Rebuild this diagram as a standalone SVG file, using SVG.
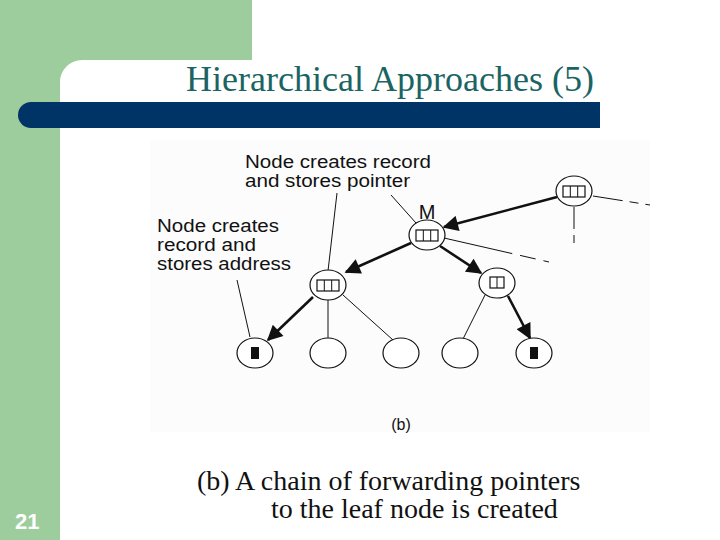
<svg xmlns="http://www.w3.org/2000/svg" width="720" height="540" viewBox="0 0 720 540">
<defs>
<style>
.lbl{font-family:"Liberation Sans",Arial,sans-serif;font-size:17.5px;fill:#111}
.nd{fill:#fff;stroke:#111;stroke-width:1.2}
.thin{stroke:#111;stroke-width:1;fill:none}
.thick{stroke:#111;stroke-width:2.6;fill:none;marker-end:url(#ah)}
.box{fill:#fff;stroke:#111;stroke-width:1.2}
</style>
<marker id="ah" viewBox="0 0 10 10" refX="9" refY="5" markerWidth="7" markerHeight="6" orient="auto" markerUnits="strokeWidth">
<path d="M0,0 L10,5 L0,10 Z" fill="#111"/>
</marker>
</defs>
<rect width="720" height="540" fill="#fff"/>
<g id="frame">
<rect x="0" y="0" width="252" height="60" fill="#9ecd9d"/>
<rect x="0" y="0" width="60" height="540" fill="#9ecd9d"/>
<path d="M60,60 h22 a22,22 0 0 0 -22,22 z" fill="#9ecd9d"/>
<path d="M31,102 H600 V128 H31 A13,13 0 0 1 31,102 Z" fill="#003366"/>
<text x="390" y="91" text-anchor="middle" font-family="'Liberation Serif','Times New Roman',serif" font-size="36" fill="#1b6464">Hierarchical Approaches (5)</text>
<text x="15" y="529" font-family="'Liberation Sans',Arial,sans-serif" font-weight="bold" font-size="22" fill="#fff">21</text>
</g>
<rect x="150" y="140" width="500" height="292" fill="#fcfcfc"/>
<g id="labels">
<text class="lbl" x="245" y="168" textLength="186" lengthAdjust="spacingAndGlyphs">Node creates record</text>
<text class="lbl" x="245" y="187" textLength="165" lengthAdjust="spacingAndGlyphs">and stores pointer</text>
<text class="lbl" x="157" y="232" textLength="122" lengthAdjust="spacingAndGlyphs">Node creates</text>
<text class="lbl" x="157" y="251" textLength="99" lengthAdjust="spacingAndGlyphs">record and</text>
<text class="lbl" x="157" y="270" textLength="134" lengthAdjust="spacingAndGlyphs">stores address</text>
<text class="lbl" x="427" y="219" text-anchor="middle" style="font-size:20px">M</text>
<text class="lbl" x="401" y="430" text-anchor="middle" style="font-size:16px">(b)</text>
</g>
<g id="connectors">
<line class="thin" x1="337" y1="193" x2="328" y2="271"/>
<line class="thin" x1="391" y1="195" x2="416" y2="223"/>
<line class="thin" x1="237" y1="280" x2="250" y2="337"/>
<line class="thin" x1="593" y1="196" x2="650" y2="205" stroke-dasharray="30,7,9,7"/>
<line class="thin" x1="574" y1="207" x2="574" y2="243" stroke-dasharray="22,6,8,6"/>
<line class="thin" x1="444" y1="238" x2="549" y2="262" stroke-dasharray="70,8,16,8"/>
<line class="thick" x1="557" y1="197" x2="444" y2="227"/>
<line class="thick" x1="411" y1="243" x2="346" y2="272"/>
<line class="thick" x1="440" y1="246" x2="481" y2="273"/>
<line class="thick" x1="313" y1="297" x2="268" y2="340"/>
<line class="thin" x1="328" y1="300" x2="328" y2="338"/>
<line class="thin" x1="343" y1="295" x2="393" y2="340"/>
<line class="thin" x1="485" y1="295" x2="463" y2="339"/>
<line class="thick" x1="508" y1="296" x2="530" y2="338"/>
</g>
<g id="node-top"><ellipse class="nd" cx="574" cy="191" rx="18" ry="15"/><rect class="box" x="563" y="186" width="22" height="11"/><line class="thin" x1="570.3" y1="186" x2="570.3" y2="197"/><line class="thin" x1="577.7" y1="186" x2="577.7" y2="197"/></g>
<g id="node-M"><ellipse class="nd" cx="427" cy="235" rx="18" ry="15"/><rect class="box" x="416" y="230" width="22" height="11"/><line class="thin" x1="423.3" y1="230" x2="423.3" y2="241"/><line class="thin" x1="430.7" y1="230" x2="430.7" y2="241"/></g>
<g id="node-left"><ellipse class="nd" cx="328" cy="285" rx="18" ry="15"/><rect class="box" x="317" y="280" width="22" height="11"/><line class="thin" x1="324.3" y1="280" x2="324.3" y2="291"/><line class="thin" x1="331.7" y1="280" x2="331.7" y2="291"/></g>
<g id="node-right"><ellipse class="nd" cx="497" cy="283" rx="18" ry="15"/><rect class="box" x="490" y="277" width="14" height="11"/><line class="thin" x1="497" y1="277" x2="497" y2="288"/></g>
<g id="leaf1"><ellipse class="nd" cx="255" cy="353" rx="18" ry="15"/><rect x="251" y="347" width="8" height="12" fill="#111"/></g>
<g id="leaf2"><ellipse class="nd" cx="328" cy="353" rx="18" ry="15"/></g>
<g id="leaf3"><ellipse class="nd" cx="401" cy="353" rx="18" ry="15"/></g>
<g id="leaf4"><ellipse class="nd" cx="460" cy="353" rx="18" ry="15"/></g>
<g id="leaf5"><ellipse class="nd" cx="534" cy="353" rx="18" ry="15"/><rect x="530" y="347" width="8" height="12" fill="#111"/></g>
<g id="caption" font-family="'Liberation Serif','Times New Roman',serif" font-size="28" fill="#111">
<text x="197" y="490">(b) A chain of forwarding pointers</text>
<text x="271" y="518">to the leaf node is created</text>
</g>
</svg>
